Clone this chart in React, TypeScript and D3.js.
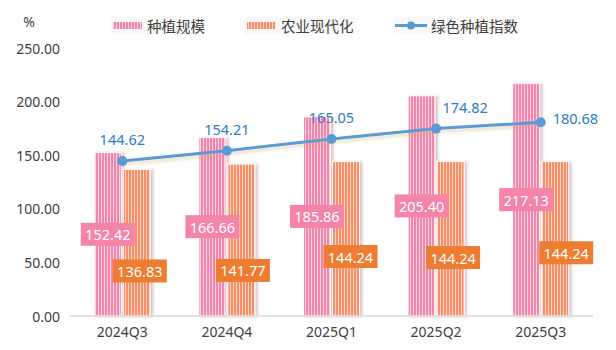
import React from "react";
import * as d3 from "d3";

const categories = ["2024Q3", "2024Q4", "2025Q1", "2025Q2", "2025Q3"];
const plantScale = [152.42, 166.66, 185.86, 205.4, 217.13];
const agriModern = [136.83, 141.77, 144.24, 144.24, 144.24];
const greenIndex = [144.62, 154.21, 165.05, 174.82, 180.68];
const yTicks = [0, 50, 100, 150, 200, 250];
// where the orange value boxes sit (in data units) and how the line labels are placed
const orangeLabelAt = [42, 42.5, 55.5, 54.5, 59];
const orangeLabelNudge = [3, 1.5, 4.5, 2.5, 11];
const lineLabelPlace = ["top", "top", "top", "topRight", "right"];

const W = 616;
const H = 350;
const FONT = "'Noto Sans', 'Noto Sans CJK SC', sans-serif";

export default function App() {
  const x = d3.scaleBand().domain(categories).range([70, 593]);
  const y = d3.scaleLinear().domain([0, 250]).range([316, 48]);
  const bw = 27;
  const cx = (c: string) => (x(c) as number) + x.bandwidth() / 2;
  const line = d3
    .line<number>()
    .x((_, i) => cx(categories[i]))
    .y((v) => y(v));

  const boxW = 54;
  const boxH = 23;

  return (
    <svg
      width={W}
      height={H}
      style={{ position: "absolute", left: 0, top: 0, background: "#fff" }}
      fontFamily={FONT}
    >
      <defs>
        <pattern id="pinkStripe" width="3" height="10" patternUnits="userSpaceOnUse">
          <rect width="3" height="10" fill="#fcd3e0" />
          <rect width="2" height="10" fill="#f585aa" />
        </pattern>
        <pattern id="orangeStripe" width="3" height="10" patternUnits="userSpaceOnUse">
          <rect width="3" height="10" fill="#fdd6c4" />
          <rect width="2" height="10" fill="#fa8e68" />
        </pattern>
        <filter id="barShadow" x="-20%" y="-5%" width="150%" height="110%">
          <feDropShadow dx="2.5" dy="0.5" stdDeviation="1.2" floodColor="#a06060" floodOpacity="0.35" />
        </filter>
        <filter id="lineShadow" x="-5%" y="-50%" width="110%" height="200%">
          <feDropShadow dx="0" dy="3" stdDeviation="1.5" floodColor="#c8a860" floodOpacity="0.35" />
        </filter>
      </defs>

      {/* unit */}
      <text x={29} y={21} fontSize={14} fill="#404040" textAnchor="middle" dominantBaseline="central">
        %
      </text>

      {/* legend */}
      <g fontSize={14.5} fill="#404040">
        <rect x={111} y={16.5} width={94} height={18} fill="#f9f9f9" />
        <rect x={113} y={22} width={29} height={7} fill="url(#pinkStripe)" />
        <text x={147} y={25.5} dominantBaseline="central">种植规模</text>

        <rect x={245} y={16.5} width={110} height={18} fill="#f9f9f9" />
        <rect x={247} y={22} width={28} height={7} fill="url(#orangeStripe)" />
        <text x={281} y={25.5} dominantBaseline="central">农业现代化</text>

        <rect x={394} y={16.5} width={123} height={18} fill="#f9f9f9" />
        <line x1={395} x2={427} y1={25.5} y2={25.5} stroke="#5b9bd5" strokeWidth={3} />
        <circle cx={411} cy={25.5} r={4} fill="#5b9bd5" />
        <text x={431} y={25.5} dominantBaseline="central">绿色种植指数</text>
      </g>

      {/* y tick labels */}
      {yTicks.map((t) => (
        <text
          key={t}
          x={60}
          y={y(t)}
          textAnchor="end"
          dominantBaseline="central"
          fontSize={14}
          fill="#404040"
        >
          {t.toFixed(2)}
        </text>
      ))}

      {/* bars */}
      <g filter="url(#barShadow)">
        {categories.map((c, i) => (
          <g key={c}>
            <rect
              x={cx(c) - bw - 1}
              y={y(plantScale[i])}
              width={bw}
              height={y(0) - y(plantScale[i])}
              fill="url(#pinkStripe)"
              stroke="#fff"
              strokeWidth={1}
            />
            <rect
              x={cx(c) + 1}
              y={y(agriModern[i])}
              width={bw}
              height={y(0) - y(agriModern[i])}
              fill="url(#orangeStripe)"
              stroke="#fff"
              strokeWidth={1}
            />
          </g>
        ))}
      </g>

      {/* x axis */}
      <line x1={70} x2={593} y1={y(0)} y2={y(0)} stroke="#d9d9d9" strokeWidth={1.5} />
      {categories.map((c) => (
        <text
          key={c}
          x={cx(c)}
          y={331}
          textAnchor="middle"
          dominantBaseline="central"
          fontSize={14}
          fill="#404040"
        >
          {c}
        </text>
      ))}

      {/* line */}
      <g filter="url(#lineShadow)">
        <path d={line(greenIndex) || ""} fill="none" stroke="#5b9bd5" strokeWidth={3} />
      </g>
      {greenIndex.map((v, i) => (
        <circle key={i} cx={cx(categories[i])} cy={y(v)} r={5} fill="#5b9bd5" />
      ))}

      {/* line labels */}
      {greenIndex.map((v, i) => {
        const px = cx(categories[i]);
        const py = y(v);
        const p = lineLabelPlace[i];
        let lx = px;
        let ly = py - 22;
        let anchor: "middle" | "start" = "middle";
        if (p === "topRight") {
          lx = px + 29;
          ly = py - 22;
        } else if (p === "right") {
          lx = px + 12;
          ly = py - 4;
          anchor = "start";
        }
        return (
          <text
            key={i}
            x={lx}
            y={ly}
            textAnchor={anchor}
            dominantBaseline="central"
            fontSize={14.5}
            fill="#2e7cc2"
          >
            {v.toFixed(2)}
          </text>
        );
      })}

      {/* pink value boxes */}
      {plantScale.map((v, i) => {
        const bx = cx(categories[i]) - bw / 2 - 1;
        const by = (y(v) + y(0)) / 2;
        return (
          <g key={i}>
            <rect x={bx - boxW / 2} y={by - boxH / 2} width={boxW} height={boxH} fill="#f484a9" />
            <text x={bx} y={by} textAnchor="middle" dominantBaseline="central" fontSize={14.5} fill="#fff">
              {v.toFixed(2)}
            </text>
          </g>
        );
      })}

      {/* orange value boxes */}
      {agriModern.map((v, i) => {
        const bx = cx(categories[i]) + bw / 2 + 1 + orangeLabelNudge[i];
        const by = y(orangeLabelAt[i]);
        return (
          <g key={i}>
            <rect x={bx - boxW / 2} y={by - boxH / 2} width={boxW} height={boxH} fill="#ed7d31" />
            <text x={bx} y={by} textAnchor="middle" dominantBaseline="central" fontSize={14.5} fill="#fff">
              {v.toFixed(2)}
            </text>
          </g>
        );
      })}
    </svg>
  );
}
